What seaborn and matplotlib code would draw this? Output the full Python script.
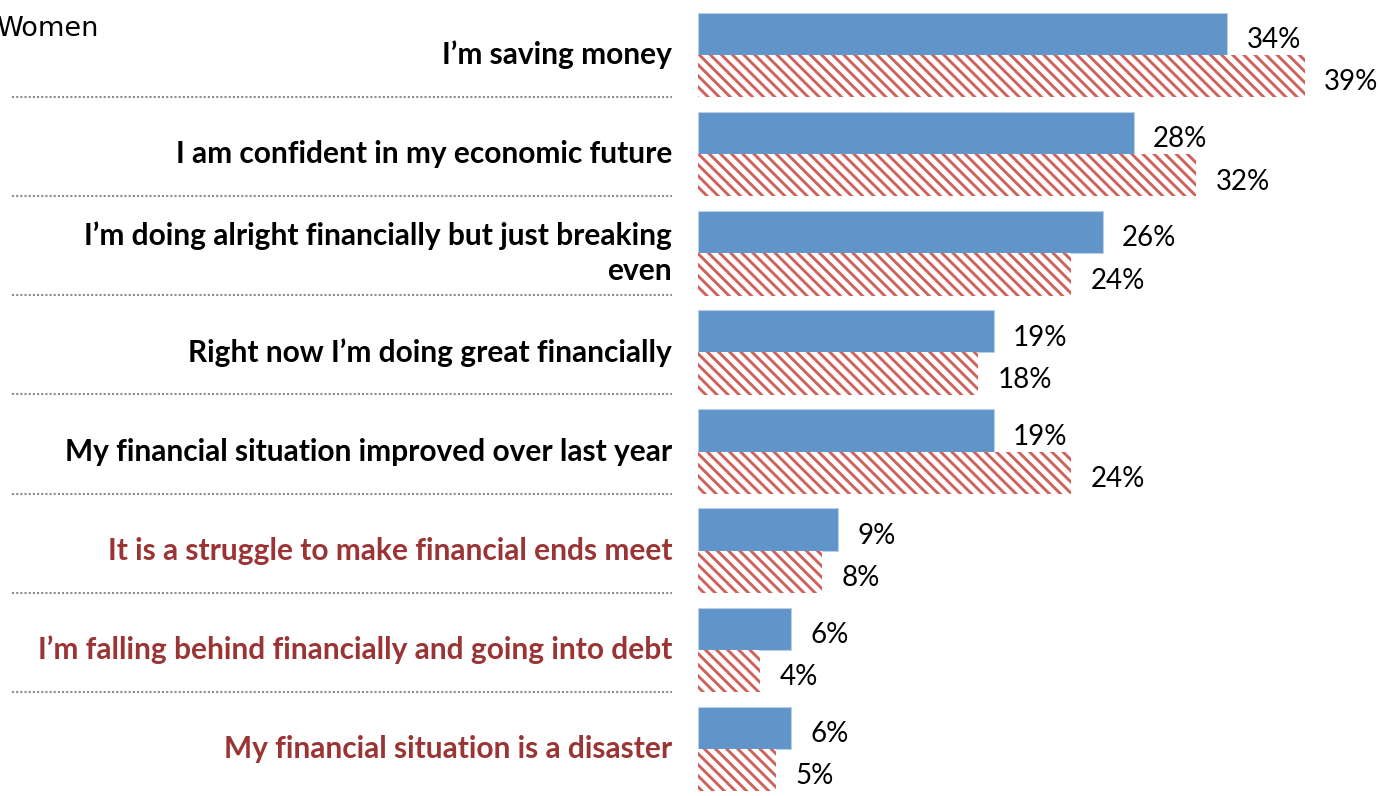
import matplotlib
matplotlib.use("Agg")
import matplotlib.pyplot as plt
import matplotlib.transforms as mtransforms
import seaborn as sns
import pandas as pd

statements = [
    "I’m saving money",
    "I am confident in my economic future",
    "I’m doing alright financially but just breaking\neven",
    "Right now I’m doing great financially",
    "My financial situation improved over last year",
    "It is a struggle to make financial ends meet",
    "I’m falling behind financially and going into debt",
    "My financial situation is a disaster",
]
men = [34, 28, 26, 19, 19, 9, 6, 6]
women = [39, 32, 24, 18, 24, 8, 4, 5]
negative = [False, False, False, False, False, True, True, True]
groups = ["Men", "Women"]

BLUE = "#6194C8"
RED = "#D0625C"
DARK_RED = "#9B3535"
GRID = "#8C8C8C"

sns.set_theme(style="white")
plt.rcParams["font.family"] = ["Lato", "DejaVu Sans"]
plt.rcParams["hatch.linewidth"] = 2.1
plt.rcParams["hatch.color"] = RED

df = pd.DataFrame({
    "statement": statements * 2,
    "group": [groups[0]] * len(men) + [groups[1]] * len(women),
    "value": men + women,
})

fig = plt.figure(figsize=(13.8, 7.96), dpi=100)
ax = fig.add_axes([698 / 1380, 0, 682 / 1380, 1])

sns.barplot(data=df, y="statement", x="value", hue="group", orient="h",
            palette=[BLUE, "white"], width=0.853, saturation=1,
            legend=False, ax=ax, errorbar=None)

# men: solid blue with a faint light edge; women: red diagonal hatch
for p in ax.containers[0]:
    p.set_edgecolor("#B8CFE8")
    p.set_linewidth(0.8)
for p in ax.containers[1]:
    p.set_facecolor("white")
    p.set_edgecolor(RED)
    p.set_hatch("\\\\\\")
    p.set_linewidth(0)

ax.set_xlim(0, 682 / 15.56)
ax.set_ylim(7.474, -0.5548)
ax.axis("off")

# value labels, nudged slightly below the bar centre
for cont in ax.containers:
    labels = ax.bar_label(cont, labels=[f"{v:.0f}%" for v in cont.datavalues],
                          padding=14, fontsize=20, color="black")
    for t in labels:
        dx, dy = t.xyann
        t.xyann = (dx, dy - 4.5)

# category labels, right aligned next to the bars
trans = mtransforms.blended_transform_factory(fig.transFigure, ax.transData)
for i, (s, neg) in enumerate(zip(statements, negative)):
    fig.text(672 / 1380, i, s, transform=trans, ha="right", va="center",
             fontsize=21.5, fontweight="bold",
             color=DARK_RED if neg else "black", linespacing=1.3)

# dotted separators between categories
for i in range(len(statements) - 1):
    ax.plot([12 / 1380, 672 / 1380], [i + 0.424, i + 0.424], transform=trans,
            color=GRID, lw=1.5, linestyle=(0, (1, 1)), clip_on=False)

fig.text(-0.003, 1 - 29 / 796, "Women", ha="left", va="center",
         fontsize=19.5, family="DejaVu Sans", color="black")

fig.savefig("out.png", dpi=100)
